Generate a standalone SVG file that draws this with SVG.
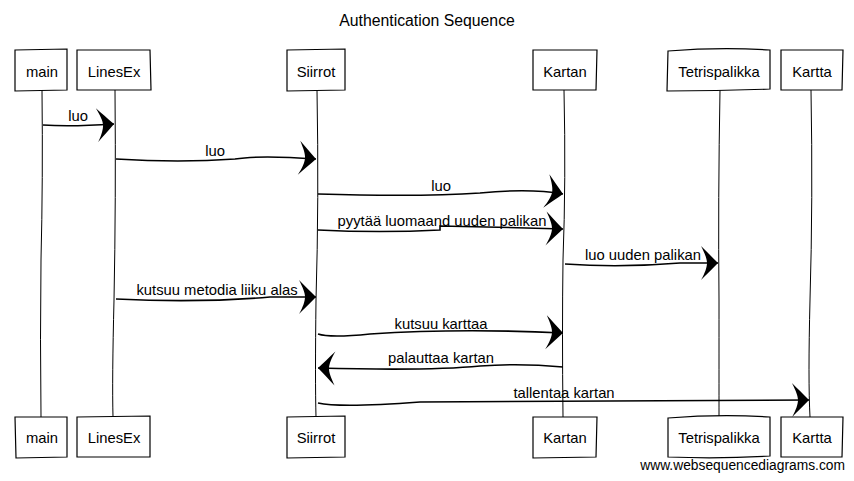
<svg xmlns="http://www.w3.org/2000/svg" width="854" height="481" viewBox="0 0 854 481">
<defs>
<style>
text{font-family:"Liberation Sans",Arial,sans-serif;font-size:14.8px;fill:#000}
.box{fill:#fff;stroke:#000;stroke-width:1.2}
.life{fill:none;stroke:#000;stroke-width:1}
.msg{fill:none;stroke:#000;stroke-width:1.6;marker-end:url(#ah)}
.lbl{text-anchor:middle}
.c{text-anchor:middle}
</style>
<marker id="ah" markerUnits="userSpaceOnUse" viewBox="-20 -18 22 36" refX="0" refY="0" markerWidth="22" markerHeight="36" orient="auto" overflow="visible">
<path d="M0,0 C-6,-6 -12,-12 -17,-17 C-13,-9 -11,-4 -11,0 C-11,4 -13,10 -17,17 C-11,11 -5,5 0,0 Z" fill="#000"/>
</marker>
</defs>
<rect width="854" height="481" fill="#fff"/>
<text x="427" y="26" class="c" style="font-size:15.8px">Authentication Sequence</text>

<g id="lifelines">
<path class="life" d="M42,90 Q43,180 41,260 Q40,340 41,417"/>
<path class="life" d="M115,90 Q116,200 114,300 Q112,380 113,417"/>
<path class="life" d="M317,90 Q319,200 316,300 Q315,380 316,417"/>
<path class="life" d="M564,90 Q566,180 563,260 Q562,330 563,417"/>
<path class="life" d="M720,90 Q718,200 719,300 Q719,380 719,417"/>
<path class="life" d="M811,90 Q813,200 810,300 Q808,380 810,417"/>
</g>

<g id="main-top"><path class="box" d="M15,50 L67,49 L67,90 L15,91 Z"/><text x="42" y="77" class="c">main</text></g>
<g id="linesex-top"><path class="box" d="M77,50 L150,50 L151,90 L77,90 Z"/><text x="114" y="77" class="c">LinesEx</text></g>
<g id="siirrot-top"><path class="box" d="M287,50 L345,49 L345,90 L287,91 Z"/><text x="316" y="77" class="c">Siirrot</text></g>
<g id="kartan-top"><path class="box" d="M533,50 L597,50 L596,90 L533,90 Z"/><text x="565" y="77" class="c">Kartan</text></g>
<g id="tetris-top"><path class="box" d="M668,51 Q720,47 770,50 L770,89 Q720,91 667,91 Z"/><text x="719" y="77" class="c">Tetrispalikka</text></g>
<g id="kartta-top"><path class="box" d="M781,50 L843,50 L842,90 L781,90 Z"/><text x="812" y="77" class="c">Kartta</text></g>

<g id="main-bot"><path class="box" d="M15,417 L67,417 L67,457 L16,458 Z"/><text x="42" y="443" class="c">main</text></g>
<g id="linesex-bot"><path class="box" d="M77,417 L150,416 L150,457 L77,457 Z"/><text x="114" y="443" class="c">LinesEx</text></g>
<g id="siirrot-bot"><path class="box" d="M287,417 L345,416 L345,457 L287,458 Z"/><text x="316" y="443" class="c">Siirrot</text></g>
<g id="kartan-bot"><path class="box" d="M533,417 L597,417 L596,457 L533,458 Z"/><text x="565" y="443" class="c">Kartan</text></g>
<g id="tetris-bot"><path class="box" d="M668,418 Q720,414 770,417 L770,456 Q720,459 668,457 Z"/><text x="719" y="443" class="c">Tetrispalikka</text></g>
<g id="kartta-bot"><path class="box" d="M781,417 L843,417 L842,457 L781,457 Z"/><text x="812" y="443" class="c">Kartta</text></g>

<g id="connectors">
<path class="msg" d="M43,125 Q70,127 114,124"/>
<path class="msg" d="M116,159 Q180,163 235,159 Q260,155 316,159"/>
<path class="msg" d="M318,194 Q420,197 480,193 Q530,188 563,194"/>
<path class="msg" d="M318,230 Q380,233 440,230 L440,226 Q500,227 563,229"/>
<path class="msg" d="M565,264 Q620,268 680,263 L718,263"/>
<path class="msg" d="M116,299 Q200,303 270,297 L316,297"/>
<path class="msg" d="M318,334 Q330,338 370,334 Q460,328 563,333"/>
<path class="msg" d="M563,367 Q520,363 480,366 Q430,371 318,368"/>
<path class="msg" d="M318,403 Q340,408 420,402 L809,400"/>
</g>

<g id="labels">
<text x="78" y="121" class="lbl">luo</text>
<text x="215" y="156" class="lbl">luo</text>
<text x="441" y="191" class="lbl">luo</text>
<text x="442" y="226" class="lbl">pyytää luomaand uuden palikan</text>
<text x="643" y="260" class="lbl">luo uuden palikan</text>
<text x="217" y="295" class="lbl">kutsuu metodia liiku alas</text>
<text x="441" y="329" class="lbl">kutsuu karttaa</text>
<text x="441" y="363" class="lbl">palauttaa kartan</text>
<text x="564" y="398" class="lbl">tallentaa kartan</text>
</g>
<text x="845" y="470" style="text-anchor:end;font-size:13.8px">www.websequencediagrams.com</text>
</svg>
